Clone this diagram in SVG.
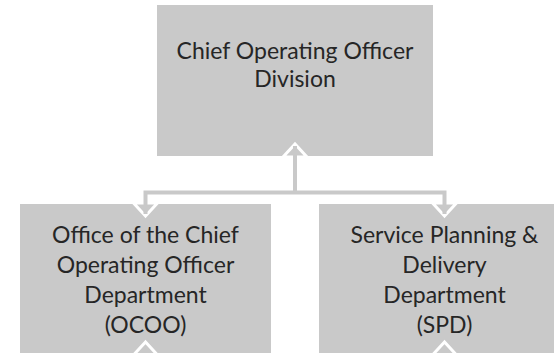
<svg xmlns="http://www.w3.org/2000/svg" width="554" height="353" viewBox="0 0 554 353">
<style>
.box{fill:#c9c9c9}
.t{font-family:Lato,"Open Sans","Liberation Sans",sans-serif;font-size:23px;fill:#262626;text-anchor:middle}
.arr{fill:#c9c9c9;stroke:#ffffff;stroke-width:3;stroke-linejoin:miter}
.ln{fill:none;stroke:#c9c9c9;stroke-width:4}
</style>
<rect width="554" height="353" fill="#ffffff"/>
<g id="node-coo">
<rect class="box" x="157" y="5" width="276" height="151"/>
<text class="t" x="295" y="59">Chief Operating Officer</text>
<text class="t" x="295" y="87">Division</text>
</g>
<g id="node-ocoo">
<rect class="box" x="20" y="204" width="251" height="160"/>
<text class="t" x="145.5" y="243">Office of the Chief</text>
<text class="t" x="145.5" y="273">Operating Officer</text>
<text class="t" x="145.5" y="303">Department</text>
<text class="t" x="145.5" y="333">(OCOO)</text>
</g>
<g id="node-spd">
<rect class="box" x="319" y="204" width="251" height="160"/>
<text class="t" x="444.5" y="243">Service Planning &amp;</text>
<text class="t" x="444.5" y="273">Delivery</text>
<text class="t" x="444.5" y="303">Department</text>
<text class="t" x="444.5" y="333">(SPD)</text>
</g>
<g id="connectors">
<polygon class="arr" points="295,144 283,157 307,157"/>
<polygon class="arr" points="145.5,216 133.5,203 157.5,203"/>
<polygon class="arr" points="444.5,216 432.5,203 456.5,203"/>
<polygon class="arr" points="145.5,342 133.5,355 157.5,355"/>
<polygon class="arr" points="444.5,342 432.5,355 456.5,355"/>
<path class="ln" d="M295,146 V192.5 M145.5,214 V192.5 H444.5 V214"/>
</g>
</svg>
